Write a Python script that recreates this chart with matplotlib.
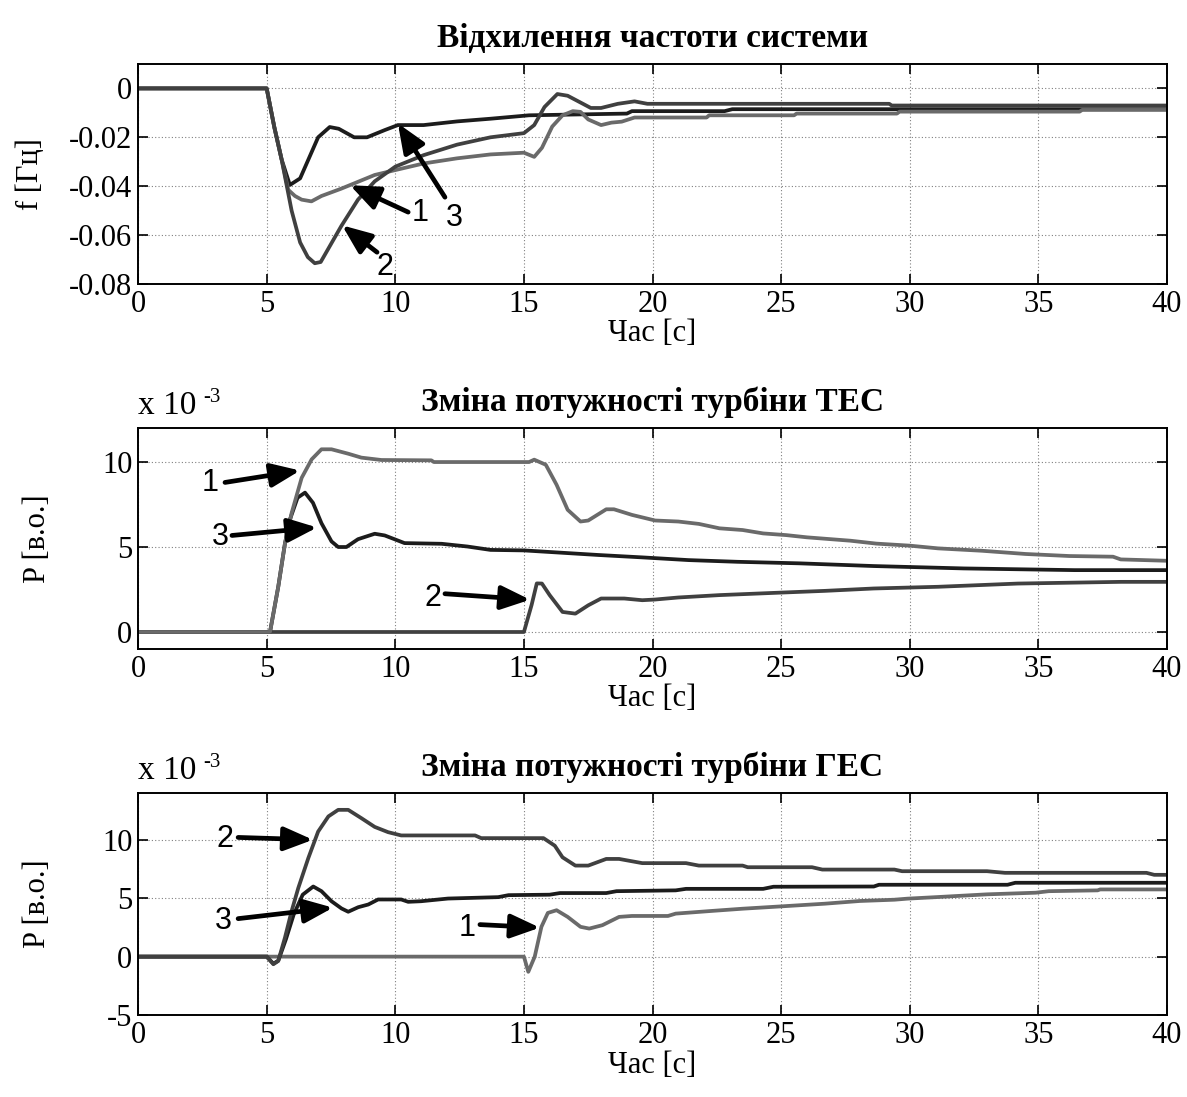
import matplotlib
matplotlib.use("Agg")
import matplotlib.pyplot as plt

plt.rcParams['font.family'] = ['Liberation Serif', 'DejaVu Serif']

# ---- panel 1: frequency deviation [Hz] ----
f1_t = [0, 5, 5.3, 5.58, 5.84, 6.1, 6.36, 6.74, 7.13, 7.9, 9.2, 10, 11.1, 12.4, 13.7, 15.0, 15.4, 15.7,
        16.1, 16.5, 16.9, 17.2, 17.5, 18.0, 18.4, 18.8, 19.3, 22.1, 22.2, 25.5, 25.6, 29.5, 29.6, 36.6, 36.7, 40]
f1 = [0, 0, -0.016, -0.029, -0.0415, -0.044, -0.0455, -0.0462, -0.044, -0.041, -0.0354, -0.0334, -0.0307,
      -0.0286, -0.027, -0.0263, -0.028, -0.0243, -0.0156, -0.011, -0.0093, -0.0096, -0.0127, -0.015, -0.014,
      -0.0136, -0.0119, -0.0119, -0.011, -0.011, -0.0103, -0.0103, -0.0095, -0.0095, -0.0088, -0.0088]
f2_t = [0, 5, 5.3, 5.58, 5.97, 6.3, 6.6, 6.87, 7.1, 7.9, 8.55, 9.2, 10, 11.1, 12.4, 13.7, 15.0, 15.4, 15.8,
        16.3, 16.7, 17.6, 18.0, 18.65, 19.3, 19.8, 29.2, 29.3, 40]
f2 = [0, 0, -0.016, -0.029, -0.050, -0.063, -0.069, -0.0715, -0.071, -0.0563, -0.0455, -0.038, -0.032,
      -0.0273, -0.023, -0.020, -0.0183, -0.015, -0.0076, -0.0023, -0.003, -0.008, -0.008, -0.0063, -0.0053,
      -0.0063, -0.0063, -0.007, -0.007]
f3_t = [0, 5, 5.3, 5.58, 5.9, 6.3, 7.0, 7.45, 7.8, 8.4, 8.9, 9.6, 10.1, 11.1, 12.4, 13.7, 15.2, 19.0, 19.2,
        22.8, 23.1, 40]
f3 = [0, 0, -0.016, -0.029, -0.0395, -0.0368, -0.020, -0.0158, -0.0165, -0.020, -0.020, -0.017, -0.015,
      -0.015, -0.0135, -0.0124, -0.011, -0.0103, -0.0093, -0.0093, -0.0085, -0.0085]

# ---- panel 2: TPP turbine power [x1e-3 p.u.] ----
p1_t = [0, 5.13, 5.45, 5.71, 5.97, 6.36, 6.75, 7.13, 7.52, 8.17, 8.68, 9.46, 11.4, 11.5, 15.2, 15.4, 15.85,
        16.27, 16.7, 17.2, 17.5, 18.2, 18.5, 19.2, 20.1, 21.0, 21.8, 22.6, 23.5, 24.3, 25.2, 26.0, 27.7, 28.7,
        30.0, 31.1, 32.8, 34.5, 36.2, 37.9, 38.2, 40]
p1 = [0, 0, 2.66, 5.2, 7.0, 9.07, 10.16, 10.75, 10.75, 10.49, 10.26, 10.12, 10.1, 10.0, 10.0, 10.14, 9.84,
      8.66, 7.19, 6.5, 6.56, 7.22, 7.22, 6.89, 6.56, 6.5, 6.36, 6.1, 6.0, 5.8, 5.7, 5.57, 5.37, 5.2, 5.08,
      4.92, 4.78, 4.59, 4.47, 4.43, 4.27, 4.19]
p2_t = [0, 15.0, 15.3, 15.5, 15.7, 16.0, 16.5, 17.0, 17.5, 18.0, 18.9, 19.6, 20.1, 21.0, 22.6, 24.7, 26.7,
        28.6, 31.1, 34.2, 38.2, 40]
p2 = [0, 0, 1.6, 2.86, 2.85, 2.17, 1.18, 1.08, 1.57, 1.97, 1.97, 1.87, 1.91, 2.03, 2.17, 2.3, 2.42, 2.56,
      2.66, 2.85, 2.95, 2.95]
p3_t = [0, 5.13, 5.45, 5.71, 5.9, 6.2, 6.49, 6.8, 7.13, 7.52, 7.78, 8.1, 8.55, 9.2, 9.59, 10.36, 11.8, 12.8,
        13.7, 15.0, 16.4, 17.9, 19.6, 21.4, 23.3, 25.7, 28.6, 32.1, 36.4, 40]
p3 = [0, 0, 2.66, 5.2, 6.6, 7.9, 8.2, 7.6, 6.4, 5.33, 5.0, 5.0, 5.46, 5.78, 5.68, 5.23, 5.19, 5.03, 4.83,
      4.8, 4.67, 4.53, 4.39, 4.23, 4.13, 4.04, 3.88, 3.74, 3.64, 3.64]

# ---- panel 3: HPP turbine power [x1e-3 p.u.] ----
h1_t = [0, 15.0, 15.17, 15.42, 15.68, 15.93, 16.27, 16.7, 17.2, 17.54, 18.05, 18.7, 19.2, 20.6, 20.9, 22.3,
        23.5, 25.0, 26.7, 28.05, 29.4, 29.9, 31.1, 33.0, 34.9, 35.4, 37.3, 37.4, 40]
h1 = [0, 0, -1.3, 0, 2.55, 3.74, 3.97, 3.4, 2.55, 2.4, 2.69, 3.4, 3.48, 3.48, 3.68, 3.91, 4.1, 4.3, 4.53,
      4.76, 4.87, 4.96, 5.1, 5.33, 5.47, 5.6, 5.67, 5.75, 5.75]
h2_t = [0, 5.0, 5.26, 5.45, 5.71, 5.97, 6.23, 6.62, 7.0, 7.4, 7.78, 8.17, 8.68, 9.2, 9.72, 10.23, 13.1,
        13.34, 15.76, 16.2, 16.5, 17.0, 17.5, 18.2, 18.7, 19.2, 19.6, 21.3, 21.8, 23.5, 23.7, 26.2, 26.6, 29.4,
        29.7, 33.0, 33.7, 39.2, 39.5, 40]
h2 = [0, 0, -0.65, -0.37, 1.62, 3.9, 5.88, 8.44, 10.7, 12.0, 12.56, 12.56, 11.85, 11.1, 10.65, 10.37,
      10.37, 10.14, 10.14, 9.49, 8.5, 7.79, 7.79, 8.36, 8.36, 8.16, 8.0, 8.0, 7.79, 7.79, 7.65, 7.65, 7.45,
      7.45, 7.31, 7.31, 7.17, 7.17, 7.0, 7.0]
h3_t = [0, 5.0, 5.26, 5.45, 5.75, 6.05, 6.4, 6.81, 7.13, 7.52, 7.91, 8.17, 8.56, 8.95, 9.33, 10.23, 10.5,
        11.0, 12.05, 14.0, 14.4, 16.0, 16.4, 18.2, 18.6, 20.9, 21.3, 24.3, 24.7, 28.6, 28.8, 33.8, 34.1, 40]
h3 = [0, 0, -0.6, -0.35, 1.5, 3.6, 5.3, 6.0, 5.6, 4.74, 4.12, 3.84, 4.23, 4.46, 4.89, 4.89, 4.69, 4.74,
      4.97, 5.09, 5.26, 5.3, 5.44, 5.44, 5.6, 5.67, 5.8, 5.8, 5.98, 6.0, 6.15, 6.15, 6.32, 6.32]

c1, c2, c3 = '#6a6a6a', '#404040', '#1c1c1c'
lw = 2.7

fig = plt.figure(figsize=(11.87, 10.97), dpi=100)
L, W = 0.1163, 0.8669
ax1 = fig.add_axes([L, 0.7411, W, 0.2006])
ax2 = fig.add_axes([L, 0.4084, W, 0.2014])
ax3 = fig.add_axes([L, 0.0747, W, 0.2024])


def style(ax, title, ylabel, ylab_x):
    ax.set_xlim(0, 40)
    ax.set_xticks(range(0, 41, 5))
    ax.grid(True, color='#808080', linestyle=(0, (1, 2)), linewidth=0.8)
    ax.tick_params(direction='in', top=True, right=True, length=7, width=1.2,
                   labelsize=22, pad=4)
    for s in ax.spines.values():
        s.set_linewidth(1.4)
    ax.set_title(title, fontsize=24, fontweight='bold', pad=12)
    ax.set_xlabel('Час [с]', fontsize=22)
    ax.xaxis.label.set_va('center')
    ax.xaxis.set_label_coords(0.5, -0.225)
    ax.set_ylabel(ylabel, fontsize=22)
    ax.yaxis.label.set_va('center')
    ax.yaxis.set_label_coords(ylab_x, 0.5)


def arrow(ax, label, tail, head, text_xy):
    ax.annotate('', xy=head, xytext=tail,
                arrowprops=dict(arrowstyle='-|>,head_length=1.1,head_width=0.45', lw=3.4,
                                mutation_scale=16, color='black', shrinkA=0, shrinkB=0))
    ax.text(text_xy[0], text_xy[1], label, fontsize=22, family='Liberation Sans',
            ha='center', va='center')


def scale_label(ax):
    ax.text(0.0, 1.03, 'x 10', transform=ax.transAxes, fontsize=24, va='bottom')
    ax.text(0.063, 1.095, '-3', transform=ax.transAxes, fontsize=15, va='bottom')


# panel 1
ax1.plot(f3_t, f3, color=c3, lw=lw)
ax1.plot(f1_t, f1, color=c1, lw=lw)
ax1.plot(f2_t, f2, color=c2, lw=lw)
ax1.set_ylim(-0.08, 0.01)
ax1.set_yticks([-0.08, -0.06, -0.04, -0.02, 0])
ax1.set_yticklabels(['-0.08', '-0.06', '-0.04', '-0.02', '0'])
style(ax1, 'Відхилення частоти системи', 'f [Гц]', -0.105)
arrow(ax1, '1', (10.5, -0.0506), (8.24, -0.0396), (10.95, -0.051))
arrow(ax1, '3', (11.93, -0.0445), (10.1, -0.0143), (12.3, -0.053))
arrow(ax1, '2', (9.29, -0.067), (7.93, -0.056), (9.6, -0.073))

# panel 2
ax2.plot(p2_t, p2, color=c2, lw=lw)
ax2.plot(p3_t, p3, color=c3, lw=lw)
ax2.plot(p1_t, p1, color=c1, lw=lw)
ax2.set_ylim(-1, 12)
ax2.set_yticks([0, 5, 10])
style(ax2, 'Зміна потужності турбіни ТЕС', 'P [в.о.]', -0.098)
scale_label(ax2)
arrow(ax2, '1', (3.38, 8.8), (6.3, 9.5), (2.8, 8.76))
arrow(ax2, '3', (3.65, 5.68), (6.96, 6.15), (3.19, 5.56))
arrow(ax2, '2', (11.93, 2.25), (15.24, 1.9), (11.47, 2.0))

# panel 3
ax3.plot(h1_t, h1, color=c1, lw=lw)
ax3.plot(h3_t, h3, color=c3, lw=lw)
ax3.plot(h2_t, h2, color=c2, lw=lw)
ax3.set_ylim(-5, 14)
ax3.set_yticks([-5, 0, 5, 10])
ax3.set_yticklabels(['-5', '0', '5', '10'])
style(ax3, 'Зміна потужності турбіни ГЕС', 'P [в.о.]', -0.098)
scale_label(ax3)
arrow(ax3, '2', (3.89, 10.2), (6.8, 10.0), (3.38, 10.1))
arrow(ax3, '3', (3.89, 3.25), (7.58, 4.19), (3.3, 3.08))
arrow(ax3, '1', (13.29, 2.74), (15.62, 2.48), (12.79, 2.48))

fig.savefig('out.png', dpi=100)
